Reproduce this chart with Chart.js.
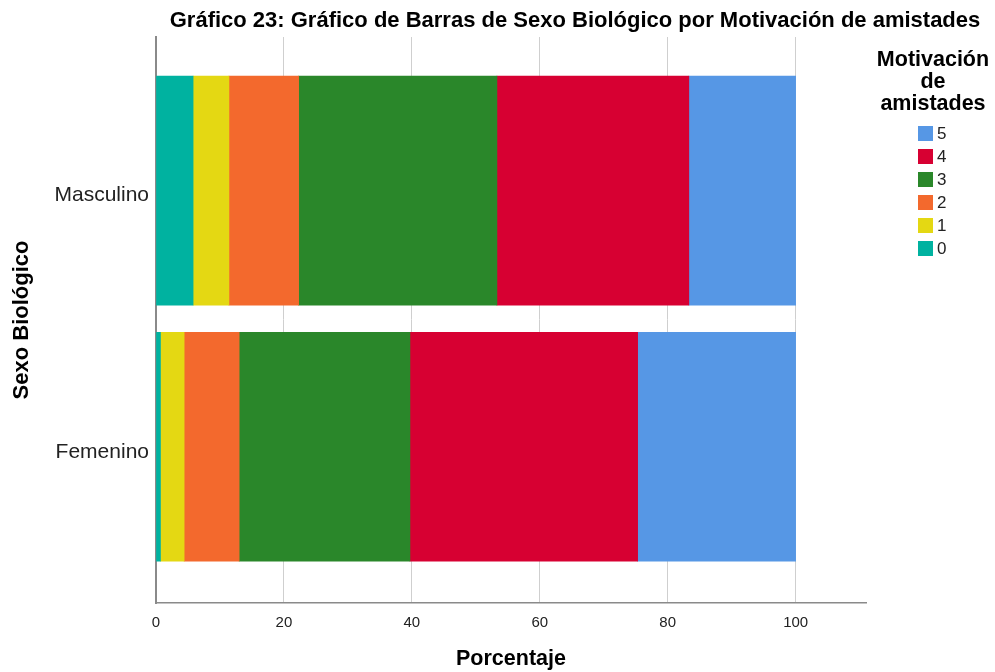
<!DOCTYPE html>
<html><head><meta charset="utf-8">
<script src="https://cdn.jsdelivr.net/npm/chart.js@4/dist/chart.umd.min.js"></script>
<style>
html,body{margin:0;padding:0;background:#fff;}
#wrap{position:relative;width:995px;height:672px;font-family:"Liberation Sans",Arial,sans-serif;color:#000;}
canvas{position:absolute;left:0;top:0;}
#title{position:absolute;left:575px;top:7px;transform:translateX(-50%);white-space:nowrap;font-weight:bold;font-size:22px;line-height:26px;}
#legtitle{position:absolute;left:863px;top:48px;width:140px;text-align:center;font-weight:bold;font-size:21.5px;line-height:22px;}
.item{position:absolute;left:918px;height:16px;font-size:17px;line-height:16px;color:#222;}
.sw{position:absolute;left:0;top:0;width:15px;height:15px;}
.lb{position:absolute;left:19px;top:0;}
</style></head>
<body><div id="wrap">
<canvas id="c" width="995" height="672"></canvas>
<div id="title">Gráfico 23: Gráfico de Barras de Sexo Biológico por Motivación de amistades</div>
<div id="legtitle">Motivación<br>de<br>amistades</div>
</div>
<script>
const categories = ['Masculino', 'Femenino'];
const levels = ['0', '1', '2', '3', '4', '5'];
const colors = ['#00B2A0', '#E4D813', '#F3692D', '#2A872A', '#D70032', '#5697E5'];
const pct0 = [5.8, 0.7];
const pct1 = [5.6, 3.7];
const pct2 = [10.9, 8.6];
const pct3 = [31.0, 26.7];
const pct4 = [30.0, 35.6];
const pct5 = [16.7, 24.7];
const series = [pct0, pct1, pct2, pct3, pct4, pct5];
const xTicks = [0, 20, 40, 60, 80, 100];
const xTitle = 'Porcentaje';
const yTitle = 'Sexo Biológico';

const datasets = series.map((vals, k) => ({
  label: levels[k],
  data: vals.map((v, i) => ({x: v, y: i})),
  backgroundColor: colors[k],
  borderWidth: 0,
  barThickness: 229
}));

// HTML legend (reversed order, like the reference)
const wrap = document.getElementById('wrap');
levels.slice().reverse().forEach((lv, j) => {
  const k = levels.length - 1 - j;
  const d = document.createElement('div');
  d.className = 'item';
  d.style.top = (126 + 23 * j) + 'px';
  d.innerHTML = '<div class="sw" style="background:' + colors[k] + '"></div><div class="lb">' + lv + '</div>';
  wrap.appendChild(d);
});

new Chart(document.getElementById('c'), {
  type: 'bar',
  data: {datasets},
  options: {
    indexAxis: 'y',
    responsive: false,
    animation: false,
    devicePixelRatio: 1,
    layout: {padding: {top: 37, right: 129, left: 0, bottom: 0}},
    plugins: {legend: {display: false}, tooltip: {enabled: false}, title: {display: false}},
    scales: {
      x: {
        type: 'linear', stacked: true, min: 0, max: 111,
        afterBuildTicks: s => { s.ticks = xTicks.map(v => ({value: v})); },
        afterFit: s => { s.height = 69; },
        grid: {color: '#cfcfcf', lineWidth: 1, drawTicks: false},
        border: {display: true, color: '#8a8a8a', width: 1.5},
        ticks: {padding: 11, color: '#222', font: {family: 'Liberation Sans', size: 15}, maxRotation: 0},
        title: {display: true, text: xTitle, color: '#000', font: {family: 'Liberation Sans', size: 21.5, weight: 'bold'}, padding: {top: 0, bottom: 0}}
      },
      y: {
        type: 'linear', stacked: true, reverse: true, min: -0.6, max: 1.61, offset: false,
        afterBuildTicks: s => { s.ticks = categories.map((c, i) => ({value: i})); },
        afterFit: s => { s.width = 156; },
        grid: {display: false, drawTicks: false},
        border: {display: true, color: '#8a8a8a', width: 2},
        ticks: {padding: 7, labelOffset: 5, color: '#222', font: {family: 'Liberation Sans', size: 21}, callback: v => categories[v]},
        title: {display: true, text: yTitle, color: '#000', font: {family: 'Liberation Sans', size: 22, weight: 'bold'}, padding: {top: 9, bottom: 0}}
      }
    }
  }
});
</script>
</body></html>
